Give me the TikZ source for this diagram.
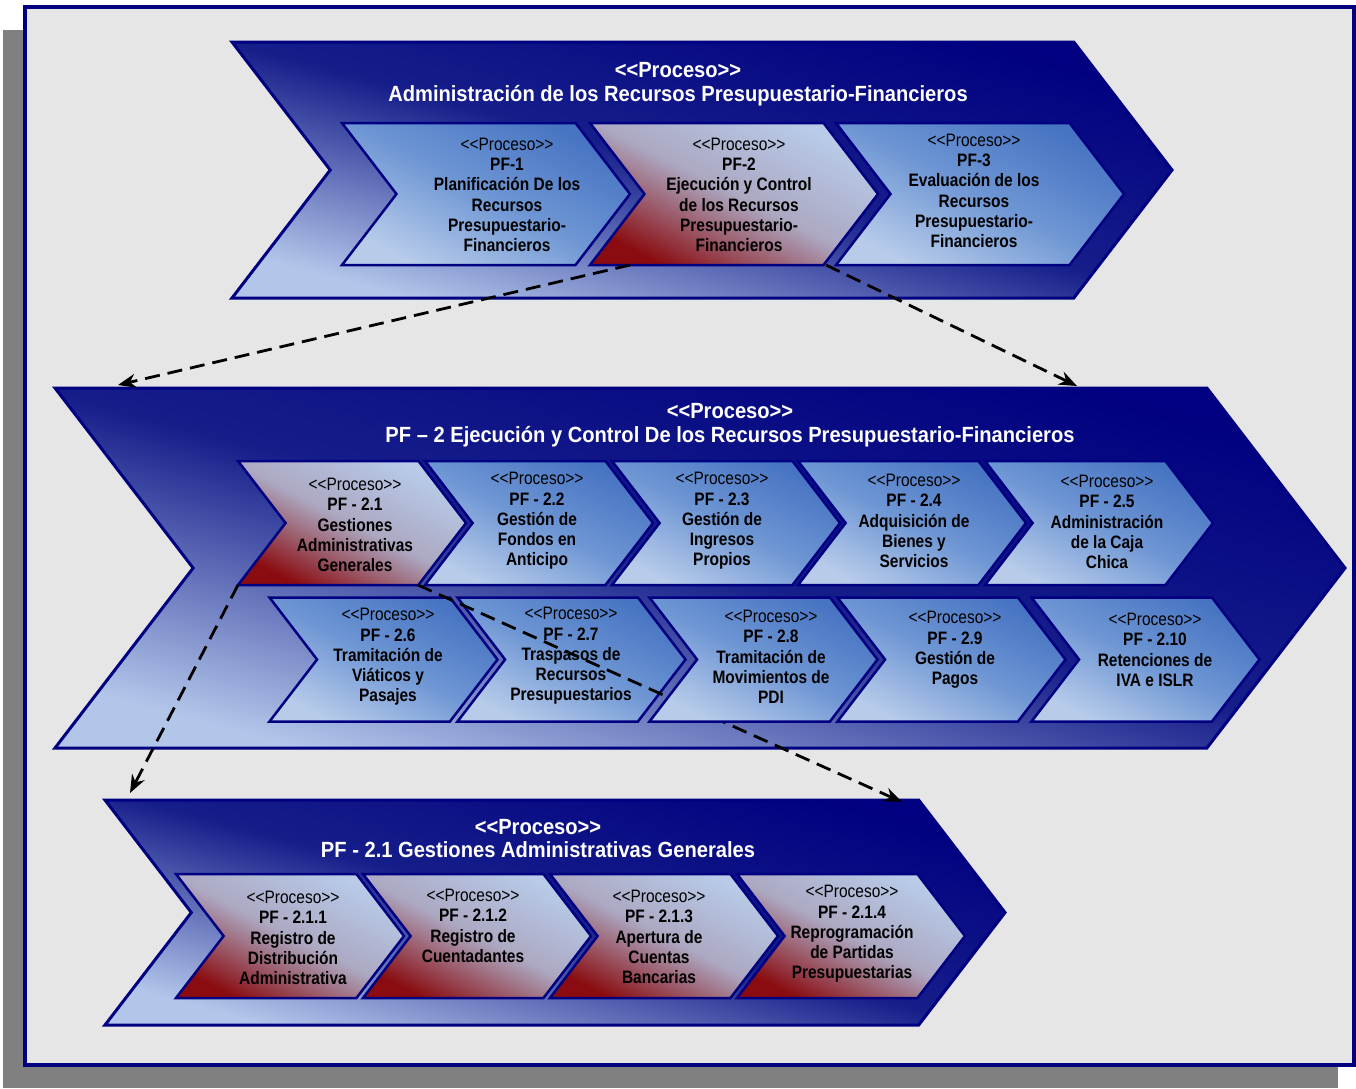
\documentclass[tikz,border=0pt]{standalone}
\usepackage{fontspec}
\setmainfont{Liberation Sans}
\newfontfamily\chevfont{Liberation Sans}[FakeStretch=0.86]
\newfontfamily\titlefont{Liberation Sans}[FakeStretch=0.915]
\usetikzlibrary{shapes.symbols,arrows.meta,calc}

\definecolor{navy}{HTML}{000080}
\definecolor{bigmid}{HTML}{161E8A}
\definecolor{biglight}{HTML}{B2C6EA}
\definecolor{cblue}{HTML}{4673C2}
\definecolor{cmid}{HTML}{6E96D4}
\definecolor{clight}{HTML}{B8CCEA}
\definecolor{rmid}{HTML}{ACA8C2}
\definecolor{darkred}{HTML}{8A0C10}
\definecolor{bggray}{HTML}{E6E6E6}
\definecolor{shadowgray}{HTML}{808080}

\newcommand\proceso{\mdseries<\kern0pt<Proceso>\kern0pt>}

\tikzset{
  bigchev/.style={signal, signal to=east, signal from=west, signal pointer angle=105,
    draw=navy, line width=3pt, inner sep=0pt,
    top color=navy, bottom color=biglight, middle color=bigmid, shading angle=-15},
  chevb/.style={signal, signal to=east, signal from=west, signal pointer angle=105,
    draw=navy, line width=2.5pt, inner sep=0pt, minimum width=228pt, minimum height=124pt,
    top color=cblue, bottom color=clight, middle color=cmid, shading angle=-27},
  chevr/.style={chevb, top color=clight, bottom color=darkred, middle color=rmid, shading angle=-27},
  txt/.style={align=center, inner sep=0pt, font=\chevfont\bfseries\fontsize{18}{20.3}\selectfont},
  ttl/.style={align=center, inner sep=0pt, text=white, font=\titlefont\bfseries\fontsize{22}{23.5}\selectfont},
  link/.style={line width=2.8pt, dash pattern=on 15pt off 8pt, -{Stealth[length=18pt,width=14pt]}}
}

\begin{document}
\begin{tikzpicture}[x=1pt,y=-1pt]
  \useasboundingbox (0,0) rectangle (1356,1088);
  % frame
  \fill[shadowgray] (3,30) rectangle (1338,1088);
  \draw[navy, line width=4pt, fill=bggray] (25,7) rectangle (1354,1065);

  % the three levels
  \node[bigchev, minimum width=940pt, minimum height=256pt] (pfa) at (702,170) {};
  \node[bigchev, minimum width=1290pt, minimum height=360pt] (pfb) at (700,568) {};
  \node[bigchev, minimum width=900pt, minimum height=225pt] (pfc) at (555,912.5) {};
  \node[ttl] (pfat) at (678,84) {<\kern0pt<Proceso>\kern0pt>\\Administración de los Recursos Presupuestario-Financieros};
  \node[ttl] (pfbt) at (730,425) {<\kern0pt<Proceso>\kern0pt>\\PF – 2 Ejecución y Control De los Recursos Presupuestario-Financieros};
  \node[ttl] (pfct) at (538,838.5) {<\kern0pt<Proceso>\kern0pt>\\PF - 2.1 Gestiones Administrativas Generales};

  % level 1
  \node[chevb, minimum width=288pt, minimum height=142pt] (pf1) at (486,194) {};
  \node[chevr, minimum width=288pt, minimum height=142pt] (pf2) at (734,194) {};
  \node[chevb, minimum width=288pt, minimum height=142pt] (pf3) at (980,194) {};
  \node[txt] (pf1t) at (507,195) {\proceso\\PF-1\\Planificación De los\\Recursos\\Presupuestario-\\Financieros};
  \node[txt] (pf2t) at (739,195) {\proceso\\PF-2\\Ejecución y Control\\de los Recursos\\Presupuestario-\\Financieros};
  \node[txt] (pf3t) at (974,191) {\proceso\\PF-3\\Evaluación de los\\Recursos\\Presupuestario-\\Financieros};

  % level 2
  \node[chevr] (pf21) at (352,523) {};
  \node[chevb] (pf22) at (539,523) {};
  \node[chevb] (pf23) at (726,523) {};
  \node[chevb] (pf24) at (912,523) {};
  \node[chevb] (pf25) at (1099,523) {};
  \node[txt] (pf21t) at (355,525) {\proceso\\PF - 2.1\\Gestiones\\Administrativas\\Generales};
  \node[txt] (pf22t) at (537,521) {\proceso\\PF - 2.2\\Gestión de\\Fondos en\\Anticipo};
  \node[txt] (pf23t) at (722,521) {\proceso\\PF - 2.3\\Gestión de\\Ingresos\\Propios};
  \node[txt] (pf24t) at (914,521) {\proceso\\PF - 2.4\\Adquisición de\\Bienes y\\Servicios};
  \node[txt] (pf25t) at (1107,522) {\proceso\\PF - 2.5\\Administración\\de la Caja\\Chica};
  \node[chevb] (pf26) at (383.5,659.5) {};
  \node[chevb] (pf27) at (571.5,659.5) {};
  \node[txt] (pf26t) at (388,657) {\proceso\\PF - 2.6\\Tramitación de\\Viáticos y\\Pasajes};
  \node[txt] (pf27t) at (571,656) {\proceso\\PF - 2.7\\Traspasos de\\Recursos\\Presupuestarios};
  \coordinate (pf21r) at ($(pf21.center)+(66,62)$);
  \coordinate (pfcr) at (902,802);
  \draw[link] (pf21r) -- (pfcr);
  \node[chevb] (pf28) at (763.5,659.5) {};
  \node[chevb] (pf29) at (951.5,659.5) {};
  \node[chevb] (pf210) at (1145.5,659.5) {};
  \node[txt] (pf28t) at (771,657) {\proceso\\PF - 2.8\\Tramitación de\\Movimientos de\\PDI};
  \node[txt] (pf29t) at (955,650) {\proceso\\PF - 2.9\\Gestión de\\Pagos};
  \node[txt] (pf210t) at (1155,650) {\proceso\\PF - 2.10\\Retenciones de\\IVA e ISLR};

  % level 3
  \node[chevr] (pf211) at (290,936) {};
  \node[chevr] (pf212) at (477,936) {};
  \node[chevr] (pf213) at (664,936) {};
  \node[chevr] (pf214) at (851,936) {};
  \node[txt] (pf211t) at (293,938) {\proceso\\PF - 2.1.1\\Registro de\\Distribución\\Administrativa};
  \node[txt] (pf212t) at (473,926) {\proceso\\PF - 2.1.2\\Registro de\\Cuentadantes};
  \node[txt] (pf213t) at (659,937) {\proceso\\PF - 2.1.3\\Apertura de\\Cuentas\\Bancarias};
  \node[txt] (pf214t) at (852,934) {\proceso\\PF - 2.1.4\\Reprogramación\\de Partidas\\Presupuestarias};

  % links
  \coordinate (pf2l) at ($(pf2.center)+(-104,71)$);
  \coordinate (pf2r) at ($(pf2.center)+(92,71)$);
  \coordinate (pf21l) at ($(pf21.center)+(-114,62)$);
  \coordinate (pfbl) at (118,385);
  \coordinate (pfbr) at (1077,386);
  \coordinate (pfcl) at (130,793);
  \draw[link] (pf2l) -- (pfbl);
  \draw[link] (pf2r) -- (pfbr);
  \draw[link] (pf21l) -- (pfcl);
\end{tikzpicture}
\end{document}
